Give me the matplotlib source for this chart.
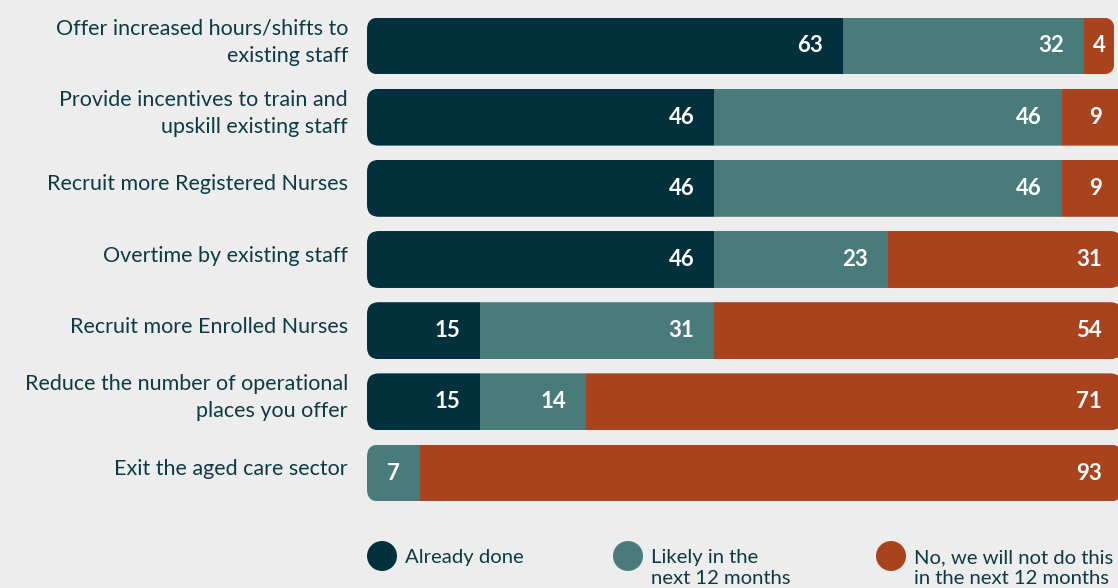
import matplotlib
matplotlib.use("Agg")
import matplotlib.pyplot as plt
from matplotlib.patches import FancyBboxPatch, Ellipse

plt.rcParams["font.family"] = ["Lato", "DejaVu Sans"]

categories = [
    "Offer increased hours/shifts to\nexisting staff",
    "Provide incentives to train and\nupskill existing staff",
    "Recruit more Registered Nurses",
    "Overtime by existing staff",
    "Recruit more Enrolled Nurses",
    "Reduce the number of operational\nplaces you offer",
    "Exit the aged care sector",
]
already_done = [63, 46, 46, 46, 15, 15, 0]
likely_12m = [32, 46, 46, 23, 31, 14, 7]
not_12m = [4, 9, 9, 31, 54, 71, 93]
series_names = ["Already done", "Likely in the\nnext 12 months",
                "No, we will not do this\nin the next 12 months"]
colors = ["#02313D", "#4A7B7B", "#A8431E"]

BG = "#EDEDED"
TEXT = "#0D3B45"

W, H, DPI = 1118, 588, 100
fig = plt.figure(figsize=(W / DPI, H / DPI), dpi=DPI, facecolor=BG)

# bar axes in pixel layout: left edge at 367px, rows 71px apart
px_per_unit = 7.55
left_px, top_px, bot_px = 367, 10.4, 508.6
ax = fig.add_axes([left_px / W, (H - bot_px) / H, (W - left_px) / W, (bot_px - top_px) / H])
ax.set_facecolor(BG)
xmax = (W - left_px) / px_per_unit
ax.set_xlim(0, xmax)
n = len(categories)
ax.set_ylim(n - 0.5, -0.5)
for s in ax.spines.values():
    s.set_visible(False)
ax.set_xticks([])
ax.set_yticks([])

# category labels, right-aligned left of the bars
pt = 72 / DPI
for i, label in enumerate(categories):
    ax.annotate(label, (0, i), xytext=(-19 * pt, 4 * pt), textcoords="offset points",
                ha="right", va="center", multialignment="right", fontsize=15.5,
                color=TEXT, linespacing=1.44)

bar_h = 0.80
row_px = (bot_px - top_px) / n
radius_px = 12
r_x = radius_px / px_per_unit
aspect = (radius_px / row_px) / r_x
label_limit = (W - 10 - left_px) / px_per_unit

for i in range(n):
    segs = [already_done[i], likely_12m[i], not_12m[i]]
    total = sum(segs)
    outline = FancyBboxPatch((0, i - bar_h / 2), total, bar_h,
                             boxstyle=f"round,pad=0,rounding_size={r_x}",
                             mutation_aspect=aspect, facecolor="none", edgecolor="none",
                             transform=ax.transData)
    ax.add_patch(outline)
    start = 0
    for v, c in zip(segs, colors):
        if v > 0:
            bars = ax.barh(i, v, left=start, height=bar_h, color=c, edgecolor="none")
            for b in bars:
                b.set_clip_path(outline)
            if v < 10:
                xt, ha = start + v / 2, "center"
            else:
                xt, ha = min(start + v - 20 / px_per_unit, label_limit), "right"
            ax.text(xt, i, str(v), ha=ha, va="center", color="white",
                    fontsize=16, fontweight="bold")
        start += v

# legend row at the bottom
lax = fig.add_axes([0, 0, 1, 1], facecolor="none")
lax.set_xlim(0, W)
lax.set_ylim(H, 0)
lax.axis("off")
legend_x = [382, 628, 891]
for x, name, c in zip(legend_x, series_names, colors):
    lax.add_patch(Ellipse((x, 556), 30, 30, facecolor=c, edgecolor="none"))
    lax.text(x + 23, 549, name, ha="left", va="top", fontsize=14.6, color=TEXT,
             linespacing=1.28)

fig.savefig("out.png", dpi=DPI, facecolor=BG)
